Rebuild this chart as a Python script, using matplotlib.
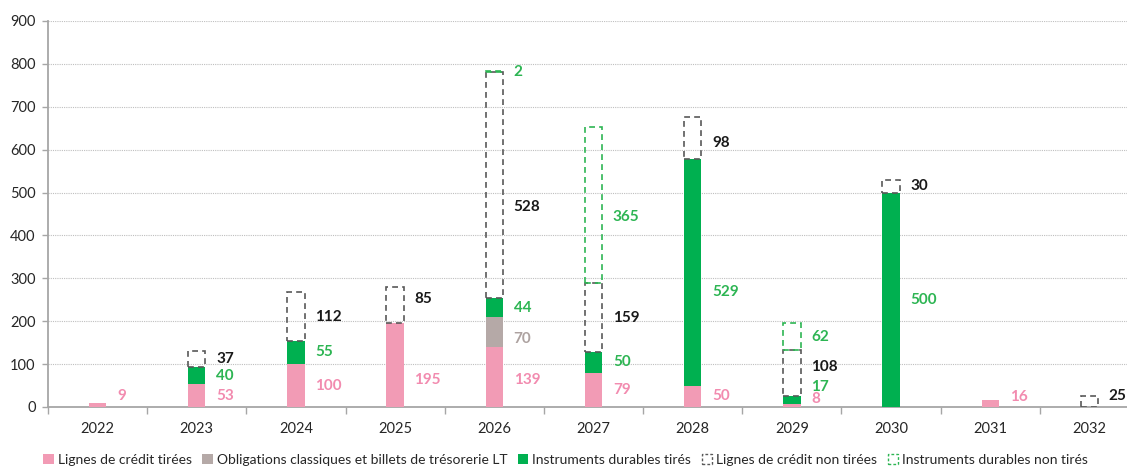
import matplotlib
matplotlib.use("Agg")
import matplotlib.pyplot as plt
from matplotlib.patches import Patch
import numpy as np

plt.rcParams['font.family'] = ['Lato', 'DejaVu Sans']

years = ['2022', '2023', '2024', '2025', '2026', '2027', '2028', '2029', '2030', '2031', '2032']
credit_tire = [9, 53, 100, 195, 139, 79, 50, 8, 0, 16, 0]
obligations = [0, 0, 0, 0, 70, 0, 0, 0, 0, 0, 0]
durables_tire = [0, 40, 55, 0, 44, 50, 529, 17, 500, 0, 0]
credit_non_tire = [0, 37, 112, 85, 528, 159, 98, 108, 30, 0, 25]
durables_non_tire = [0, 0, 0, 0, 2, 365, 0, 62, 0, 0, 0]

series_names = ['Lignes de crédit tirées',
                'Obligations classiques et billets de trésorerie LT',
                'Instruments durables tirés',
                'Lignes de crédit non tirées',
                'Instruments durables non tirés']

# label placement tweaks (y in data units)
label_y = {
    (0, 0): 26, (0, 3): 63, (3, 3): 252, (0, 4): 63, (1, 4): 158,
    (3, 4): 466, (4, 5): 443, (2, 6): 268, (3, 6): 615,
    (0, 7): 19, (2, 7): 47, (3, 7): 94, (0, 9): 23, (3, 10): 26,
}

fill_colors = ['#F29BB5', '#B5A9A7', '#00B050']
text_colors = ['#F28BAF', '#ADA2A0', '#2DB553', '#1A1A1A', '#2DB553']
edge_colors = ['#595959', '#2DB553']

fig = plt.figure(figsize=(11.27, 4.71), dpi=100)
ax = fig.add_axes([48 / 1127, 64 / 471, 1091 / 1127, 386 / 471])

x = np.arange(len(years))
w = 0.175
bottom = np.zeros(len(years))
all_series = [credit_tire, obligations, durables_tire, credit_non_tire, durables_non_tire]

for s, vals in enumerate(all_series):
    vals = np.array(vals, dtype=float)
    if s < 3:
        ax.bar(x, vals, w, bottom=bottom, color=fill_colors[s], zorder=3)
    else:
        for i in range(len(years)):
            if vals[i] > 0:
                ax.bar(x[i], vals[i], w, bottom=bottom[i], facecolor='none',
                       edgecolor=edge_colors[s - 3], linestyle=(0, (3.5, 2.5)),
                       linewidth=1.2, zorder=4)
    for i in range(len(years)):
        if vals[i] > 0:
            y = label_y.get((s, i), bottom[i] + vals[i] / 2)
            ax.text(x[i] + 0.195, y, f'{int(vals[i])}', color=text_colors[s],
                    fontsize=11, fontweight='bold', ha='left', va='center')
    bottom = bottom + vals

ax.set_xlim(-0.5, 10.5)
ax.set_ylim(0, 900)
ax.set_yticks(np.arange(0, 901, 100))
ax.set_xticks(x)
ax.set_xticklabels(years)
ax.set_xticks(np.arange(-0.5, 11, 1), minor=True)
ax.tick_params(axis='x', which='major', length=0, pad=11, labelsize=10.5, labelcolor='#262626')
ax.tick_params(axis='x', which='minor', length=5, color='#A6A6A6', width=1)
ax.tick_params(axis='y', length=4, color='#A6A6A6', width=1, labelsize=10.5, labelcolor='#262626', pad=5)
ax.yaxis.grid(True, linestyle=(0, (1, 1)), color='#BFBFBF', linewidth=0.8, zorder=0)
ax.set_axisbelow(True)
for side in ['top', 'right']:
    ax.spines[side].set_visible(False)
for side in ['left', 'bottom']:
    ax.spines[side].set_color('#A6A6A6')
    ax.spines[side].set_linewidth(1.3)

handles = [Patch(facecolor=fill_colors[0], edgecolor='none'),
           Patch(facecolor=fill_colors[1], edgecolor='none'),
           Patch(facecolor=fill_colors[2], edgecolor='none'),
           Patch(facecolor='none', edgecolor=edge_colors[0], linestyle=(0, (2, 1.5)), linewidth=1),
           Patch(facecolor='none', edgecolor=edge_colors[1], linestyle=(0, (2, 1.5)), linewidth=1)]
fig.legend(handles, series_names, loc='lower center', bbox_to_anchor=(0.502, -0.015), ncol=5,
           frameon=False, fontsize=10, handlelength=0.75, handleheight=0.75,
           handletextpad=0.3, columnspacing=0.75, labelcolor='#262626')

fig.savefig('out.png', dpi=100)
